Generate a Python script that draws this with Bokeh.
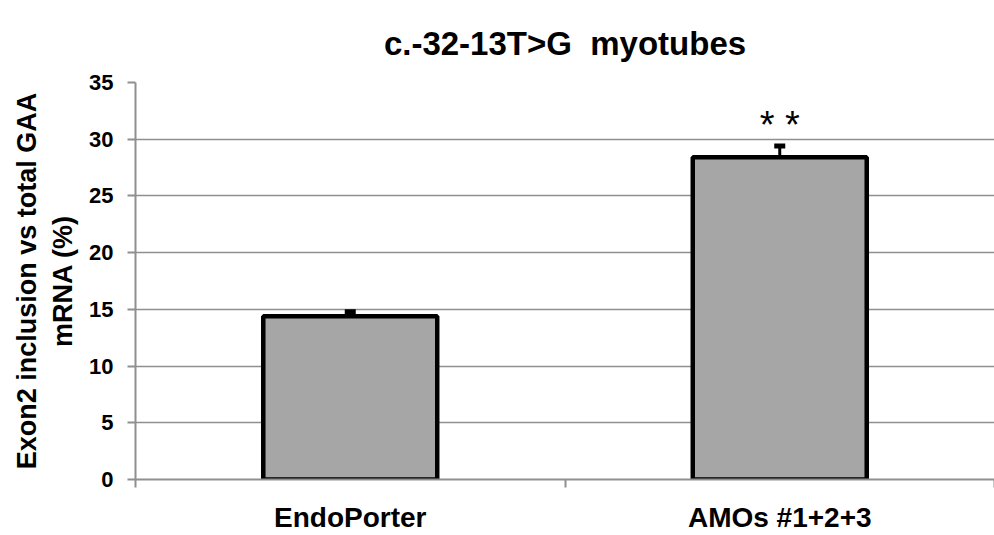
from bokeh.plotting import figure
from bokeh.models import ColumnDataSource, FixedTicker, Whisker, Label
from bokeh.embed import file_html
from bokeh.resources import INLINE

categories = ["EndoPorter", "AMOs #1+2+3"]
values = [14.4, 28.4]
errors = [0.4, 1.0]
significance = ["", "* *"]
y_ticks = [0, 5, 10, 15, 20, 25, 30, 35]

FONT = "Liberation Sans"
GRID = "#8f8f8f"

xs = [i + 0.5 for i in range(len(categories))]
uppers = [v + e for v, e in zip(values, errors)]
src = ColumnDataSource(dict(x=xs, top=values, upper=uppers))

p = figure(width=994, height=535, x_range=(0, len(categories)), y_range=(0, 35),
           output_backend="svg", toolbar_location=None,
           min_border_left=135, min_border_right=0, min_border_top=82, min_border_bottom=55)

p.title.text = "c.-32-13T>G\u00a0 myotubes"
p.title.text_font = FONT
p.title.text_font_size = "33px"
p.title.text_font_style = "bold"
p.title.text_color = "black"
p.title.align = "center"
p.title.offset = -60
p.title.standoff = 42

p.outline_line_color = None
p.background_fill_color = "white"
p.border_fill_color = "white"

# upper error bars, drawn under the bars so the outline covers their base
whisker = Whisker(source=src, base="x", lower="top", upper="upper",
                  line_color="black", line_width=3, upper_head=None, lower_head=None)
p.add_layout(whisker)

p.vbar(x="x", top="top", width=0.405, source=src,
       fill_color="#a6a6a6", line_color="black", line_width=4.5)

# error caps
p.rect(x="x", y="upper", width=11, height=5, width_units="screen", height_units="screen",
       source=src, fill_color="black", line_color=None)

for xv, up, s in zip(xs, uppers, significance):
    if s:
        p.add_layout(Label(x=xv, y=up, text=s, text_font=FONT, text_font_size="38px",
                           text_align="center", y_offset=0, text_color="black"))

# y axis
p.yaxis.ticker = FixedTicker(ticks=y_ticks)
p.yaxis.axis_label = "Exon2 inclusion vs total GAA\nmRNA (%)"
p.yaxis.axis_label_text_font = FONT
p.yaxis.axis_label_text_font_size = "27px"
p.yaxis.axis_label_text_font_style = "bold"
p.yaxis.axis_label_text_color = "black"
p.yaxis.axis_label_standoff = 8
p.yaxis.major_label_text_font = FONT
p.yaxis.major_label_text_font_size = "22px"
p.yaxis.major_label_text_font_style = "bold"
p.yaxis.major_label_text_color = "black"
p.yaxis.major_label_standoff = 14
p.yaxis.axis_line_color = GRID
p.yaxis.axis_line_width = 2
p.yaxis.major_tick_line_color = GRID
p.yaxis.major_tick_line_width = 2
p.yaxis.major_tick_out = 8
p.yaxis.major_tick_in = 0
p.yaxis.minor_tick_line_color = None

# x axis: labels at category centres, ticks at category boundaries
p.xaxis.ticker = FixedTicker(ticks=xs, minor_ticks=list(range(len(categories) + 1)))
p.xaxis.major_label_overrides = {x: c for x, c in zip(xs, categories)}
p.xaxis.major_label_text_font = FONT
p.xaxis.major_label_text_font_size = "28px"
p.xaxis.major_label_text_font_style = "bold"
p.xaxis.major_label_text_color = "black"
p.xaxis.major_label_standoff = 14
p.xaxis.major_tick_line_color = None
p.xaxis.minor_tick_line_color = GRID
p.xaxis.minor_tick_line_width = 2
p.xaxis.minor_tick_out = 8
p.xaxis.minor_tick_in = 0
p.xaxis.axis_line_color = GRID
p.xaxis.axis_line_width = 2

p.xgrid.grid_line_color = None
p.ygrid.grid_line_color = GRID
p.ygrid.grid_line_width = 1.5

open("out.html", "w").write(file_html(p, INLINE))
